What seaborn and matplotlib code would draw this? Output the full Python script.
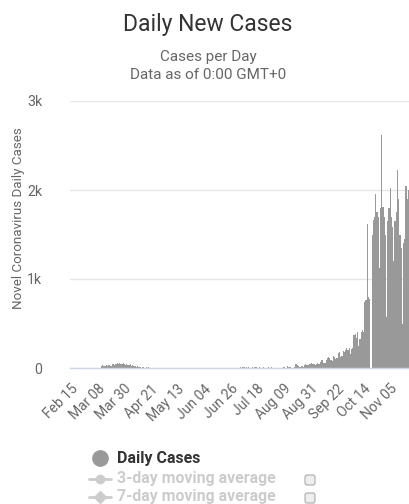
import matplotlib
matplotlib.use("Agg")
import pandas as pd
import seaborn as sns
import matplotlib.pyplot as plt
from matplotlib.lines import Line2D
from matplotlib.patches import FancyBboxPatch

sns.set_style("white")
plt.rcParams['font.family'] = ['Roboto', 'DejaVu Sans']

# daily new cases, one list per month (series starts Feb 15, 2020)
feb = [0, 0, 0, 0, 0, 0, 0, 0, 0, 0, 0, 0, 0, 0, 0]
mar = [0, 0, 0, 0, 0, 0, 0, 0, 0, 0,
       25, 30, 28, 20, 32, 22, 30, 35, 28, 40, 45, 38, 50, 55, 42, 60, 48, 40, 52, 45, 38]
apr = [40, 35, 30, 42, 25, 30, 20, 28, 15, 18, 10, 12, 0, 8, 15,
       5, 10, 0, 6, 0, 0, 5, 0, 0, 0, 0, 0, 0, 0, 0]
may = [0, 0, 0, 0, 0, 0, 0, 0, 0, 0, 0, 0, 0, 0, 0, 0,
       0, 0, 0, 0, 0, 0, 0, 0, 0, 0, 0, 0, 0, 0, 0]
jun = [0, 0, 0, 0, 0, 0, 0, 0, 0, 0, 0, 0, 0, 0, 0,
       0, 0, 0, 0, 0, 0, 0, 0, 0, 0, 0, 0, 0, 0, 0]
jul = [0, 0, 0, 10, 0, 8, 12, 0, 6, 0, 10, 0, 0, 8, 0, 12,
       6, 0, 0, 10, 0, 0, 8, 0, 0, 5, 10, 0, 0, 6, 0]
aug = [0, 0, 0, 5, 0, 0, 0, 0, 8, 0, 0, 20, 15, 10, 0, 5,
       0, 10, 40, 35, 20, 15, 10, 20, 15, 30, 40, 35, 30, 50, 45]
sep = [55, 50, 40, 35, 45, 60, 50, 70, 90, 85, 60, 55, 95, 110, 120,
       115, 90, 80, 130, 125, 100, 110, 170, 180, 120, 140, 190, 185, 200, 220]
octo = [200, 230, 160, 210, 230, 370, 380, 340, 400, 250, 330, 410, 430, 400, 740, 760,
        1620, 800, 780, 0, 1500, 1660, 1700, 1950, 1750, 1700, 1120, 1800, 2620, 1810, 1700]
nov = [1500, 570, 1650, 1800, 2020, 1700, 1580, 1200, 1650, 1750,
       2230, 1900, 1500, 1350, 500, 1400, 1450, 2050, 1900, 2000]

cases = feb + mar + apr + may + jun + jul + aug + sep + octo + nov
dates = pd.date_range("2020-02-15", periods=len(cases), freq="D")
df = pd.DataFrame({"date": dates.strftime("%b %d"), "cases": cases})

y_ticks = [0, 1000, 2000, 3000]
y_labels = ["0", "1k", "2k", "3k"]
tick_step = 22

W, H = 409, 504
fig = plt.figure(figsize=(W / 100, H / 100), dpi=100)
ax = fig.add_axes([70 / W, (H - 368) / H, (W - 70) / W, (368 - 101) / H])

sns.barplot(data=df, x="date", y="cases", color="#999999", width=1.0,
            saturation=1, linewidth=0, ax=ax)

ax.set_xlim(-1, len(cases) - 0.5)
ax.set_ylim(0, 3000)
ax.set_yticks(y_ticks)
ax.set_yticklabels(y_labels)
ax.set_xticks(range(0, len(cases), tick_step))
ax.set_xticklabels(df["date"][::tick_step], rotation=45, ha="right",
                   rotation_mode="anchor")
ax.tick_params(axis="x", length=0, pad=10, labelsize=10, labelcolor="#666666")
ax.tick_params(axis="y", length=0, pad=20, labelsize=10.2, labelcolor="#666666")

ax.grid(axis="y", color="#e6e6e6", linewidth=1)
ax.set_axisbelow(True)
for s in ["top", "right", "left"]:
    ax.spines[s].set_visible(False)
ax.spines["bottom"].set_color("#ccd6eb")
ax.spines["bottom"].set_linewidth(1)
ax.set_xlabel("")
ax.set_ylabel("Novel Coronavirus Daily Cases", fontsize=9.6, color="#666666")
ax.yaxis.set_label_coords((25 - 70) / (W - 70), (368 - 218) / (368 - 101))

# titles
fig.text(208 / W, 1 - 24 / H, "Daily New Cases", ha="center", va="center",
         fontsize=16.5, color="#333333")
fig.text(208 / W, 1 - 57 / H, "Cases per Day", ha="center", va="center",
         fontsize=11, color="#666666")
fig.text(208 / W, 1 - 75 / H, "Data as of 0:00 GMT+0", ha="center", va="center",
         fontsize=11, color="#666666")

# legend
def fx(x):
    return x / W

def fy(y):
    return 1 - y / H

fig.add_artist(Line2D([fx(100)], [fy(458)], marker="o", markersize=11,
                      color="#999999", transform=fig.transFigure))
fig.text(fx(117), fy(459), "Daily Cases", ha="left", va="center",
         fontsize=11.5, fontweight="bold", color="#333333")

for y, mk, label in [(479, "o", "3-day moving average"),
                     (497, "D", "7-day moving average")]:
    fig.add_artist(Line2D([fx(89), fx(111)], [fy(y), fy(y)], color="#cccccc",
                          linewidth=2, transform=fig.transFigure))
    fig.add_artist(Line2D([fx(100)], [fy(y)], marker=mk, markersize=6,
                          color="#cccccc", transform=fig.transFigure))
    fig.text(fx(117), fy(y), label, ha="left", va="center",
             fontsize=11.4, fontweight="bold", color="#cccccc")
    fig.add_artist(FancyBboxPatch((fx(305), fy(y + 6)), fx(10), 10 / H,
                                  boxstyle="round,pad=0,rounding_size=0.005",
                                  facecolor="#eeeeee", edgecolor="#aaaaaa",
                                  linewidth=0.8, transform=fig.transFigure))

fig.savefig("out.png", dpi=100)
plt.close(fig)
